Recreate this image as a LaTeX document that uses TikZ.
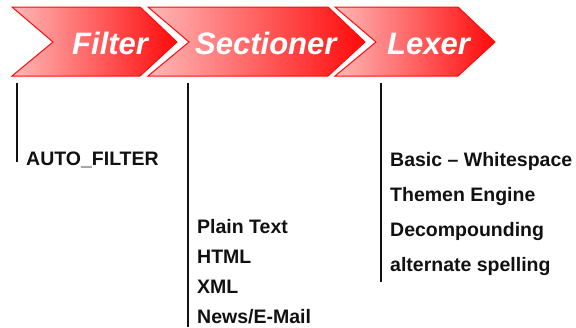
\documentclass[tikz,border=0pt]{standalone}
\usepackage{fontspec}
\setmainfont{Liberation Sans}
\usetikzlibrary{calc}
\definecolor{stage}{HTML}{FF0A0A}
\definecolor{stagelight}{HTML}{FFB8B8}
\definecolor{ink}{HTML}{111111}

\tikzset{
  stagearrow/.style={draw=stage, line width=1pt, left color=stagelight, right color=stage},
  stagelabel/.style={anchor=base west, inner sep=0pt, text=white,
                     font=\fontsize{31}{31}\selectfont\bfseries\itshape},
  itemlabel/.style={anchor=base west, inner sep=0pt, text=ink,
                    font=\fontsize{19.5}{20}\selectfont\bfseries},
  stem/.style={ink, line width=1.6pt},
}

\begin{document}
\begin{tikzpicture}[x=1pt, y=-1pt]
  \useasboundingbox (0,0) rectangle (576,327);

  % Pipeline stages
  \foreach \l/\r in {12/140, 148/328, 335/458} {
    \path[stagearrow] (\l,7) -- (\r,7) -- (\r+37,42) -- (\r,76) -- (\l,76) -- (\l+41,42) -- cycle;
  }
  \node[stagelabel] (filter) at (72,54) {Filter};
  \node[stagelabel] (sectioner) at (195,54) {Sectioner};
  \node[stagelabel] (lexer) at (387,54) {Lexer};

  % Stems below each stage
  \coordinate (filter-stem) at (17,83);
  \coordinate (sectioner-stem) at (188,83);
  \coordinate (lexer-stem) at (381,83);
  \draw[stem] (filter-stem) -- ++(0,79);
  \draw[stem] (sectioner-stem) -- ++(0,244);
  \draw[stem] (lexer-stem) -- ++(0,199);

  % Options
  \node[itemlabel] (filter-1) at (26,165) {AUTO\_FILTER};
  \foreach \t [count=\i] in {Plain Text, HTML, XML, News/E-Mail}
    \node[itemlabel] (sectioner-\i) at (197,{233+30*(\i-1)}) {\t};
  \foreach \t [count=\i] in {Basic -- Whitespace, Themen Engine, Decompounding, alternate spelling}
    \node[itemlabel] (lexer-\i) at (390,{166+35*(\i-1)}) {\t};
\end{tikzpicture}
\end{document}
